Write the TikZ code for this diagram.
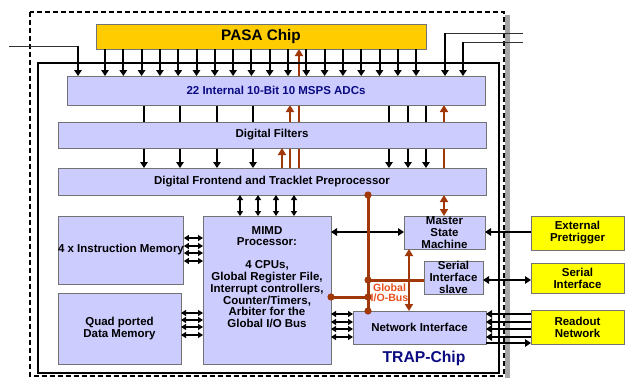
\documentclass[tikz,border=0pt]{standalone}
\usepackage{fontspec}
\setmainfont{Liberation Sans}
\usetikzlibrary{arrows.meta,positioning,backgrounds}
\definecolor{lav}{RGB}{204,204,255}
\definecolor{pasaorange}{RGB}{255,204,0}
\definecolor{extyellow}{RGB}{255,255,0}
\definecolor{busbrown}{RGB}{160,56,10}
\definecolor{buslabel}{RGB}{232,80,30}
\definecolor{trapblue}{RGB}{10,10,130}
\tikzset{
  blk/.style={draw=gray!90!black, fill=lav, line width=0.8pt, inner sep=0pt, outer sep=0pt,
    anchor=north west, align=center, font=\fontsize{11.5}{12}\selectfont\bfseries},
  extbox/.style={blk, fill=extyellow},
  sig/.style={line width=2pt, -{Triangle[length=6pt,width=7.5pt]}},
  bisig/.style={line width=2pt, {Triangle[length=6pt,width=7.5pt]}-{Triangle[length=6pt,width=7.5pt]}},
  bundle/.style={line width=1.6pt, {Triangle[length=5pt,width=6pt]}-{Triangle[length=5pt,width=6pt]}},
  ctl/.style={busbrown, line width=2.2pt, -{Triangle[length=7pt,width=8pt]}},
  bictl/.style={busbrown, line width=2.2pt, {Triangle[length=7pt,width=8pt]}-{Triangle[length=7pt,width=8pt]}},
  bus/.style={busbrown, line width=3pt},
  wire/.style={line width=0.7pt, gray!40!black},
}
\begin{document}
\begin{tikzpicture}[x=1pt,y=-1pt]
\useasboundingbox (0,0) rectangle (625,378);
% chip outlines
\fill[gray!70] (505,15) rectangle (510,378);
\draw[line width=2pt, dash pattern=on 5pt off 3pt] (30,12) rectangle (504,376);
\draw[line width=2pt] (38,63) rectangle (499,373);
\node[text=trapblue, font=\fontsize{15.7}{16}\selectfont\bfseries, inner sep=0pt] (trap) at (424,358) {TRAP-Chip};

% blocks
\node[blk, fill=pasaorange, minimum width=330pt, minimum height=25pt,
  font=\fontsize{15.3}{16}\selectfont\bfseries] (pasa) at (96,24) {PASA Chip};
\node[blk, text=trapblue, minimum width=418pt, minimum height=29pt] (adc) at (67,76) {22 Internal 10-Bit 10 MSPS ADCs};
\node[blk, minimum width=428pt, minimum height=26pt] (filt) at (58,122) {Digital Filters};
\node[blk, minimum width=428pt, minimum height=27pt] (front) at (58,168) {Digital Frontend and Tracklet Preprocessor};
\node[blk, minimum width=123pt, minimum height=68pt] (imem) at (58,216) {4 x Instruction Memory};
\node[blk, minimum width=123pt, minimum height=71pt] (dmem) at (58,293) {Quad ported\\Data Memory};
\node[blk, minimum width=128pt, minimum height=148pt] (mimd) at (203,216) {};
\node[below=10pt of mimd.north, inner sep=0pt, align=center, font=\fontsize{11.5}{11.8}\selectfont\bfseries] (mimdtext)
  {MIMD\\Processor:\\[11pt]4 CPUs,\\Global Register File,\\Interrupt controllers,\\Counter/Timers,\\Arbiter for the\\Global I/O Bus};
\node[blk, minimum width=81pt, minimum height=33pt] (msm) at (404,216) {Master\\State\\Machine};
\node[blk, minimum width=59pt, minimum height=33pt] (sis) at (424,261) {Serial\\Interface\\slave};
\node[blk, minimum width=133pt, minimum height=33pt] (ni) at (353,311) {Network Interface};
\node[extbox, minimum width=93pt, minimum height=34pt] (ext) at (531,216) {External\\Pretrigger};
\node[extbox, minimum width=93pt, minimum height=30pt] (ser) at (531,263) {Serial\\Interface};
\node[extbox, minimum width=93pt, minimum height=34pt] (ro) at (531,310) {Readout\\Network};

% analog inputs
\foreach \i [evaluate=\i as \x using 105+18.3*\i] in {0,...,17}
  \draw[sig] (\x,0 |- pasa.south) -- (\x,0 |- adc.north);
\coordinate (inl) at (9,46);
\coordinate (inra) at (523,33);
\coordinate (inrb) at (523,42);
\draw[wire] (inl) -- (inl -| 78,0);
\draw[sig] (inl -| 78,0) -- (78,0 |- adc.north);
\draw[wire] (inra) -- (inra -| 445,0);
\draw[sig] (inra -| 445,0) -- (445,0 |- adc.north);
\draw[wire] (inrb) -- (inrb -| 463,0);
\draw[sig] (inrb -| 463,0) -- (463,0 |- adc.north);

% data path through the filters
\begin{scope}[on background layer]
\foreach \x in {144,180,217,253,389,408,426}
  \draw[sig] (\x,0 |- adc.south) -- (\x,0 |- front.north);
\draw[ctl] (299,0 |- front.north) -- (299,0 |- pasa.south);
\draw[ctl] (290,0 |- front.north) -- (290,0 |- adc.south);
\draw[ctl] (444,0 |- front.north) -- (444,0 |- adc.south);
\end{scope}
\draw[ctl] (282,0 |- front.north) -- (282,0 |- filt.south);
\draw[bictl] (444,0 |- front.south) -- (444,0 |- msm.north);

% processor ports
\foreach \x in {240,258,276,294}
  \draw[bundle] (\x,0 |- front.south) -- (\x,0 |- mimd.north);
\foreach \y in {238,246,253,261}
  \draw[bundle] (imem.east |- 0,\y) -- (mimd.west |- 0,\y);
\foreach \y in {313,320,327,335}
  \draw[bundle] (dmem.east |- 0,\y) -- (mimd.west |- 0,\y);
\foreach \y in {314,322,329,337}
  \draw[bundle] (mimd.east |- 0,\y) -- (ni.west |- 0,\y);
\draw[bisig] (mimd.east |- 0,232) -- (msm.west |- 0,232);

% global I/O bus
\coordinate (bustop) at (368,0 |- front.south);
\coordinate (busbot) at (368,0 |- ni.north);
\coordinate (bussis) at (368,280);
\coordinate (busmimd) at (368,297);
\draw[bus] (bustop) -- (busbot);
\draw[bus] (bussis) -- (bussis -| sis.west);
\draw[bus] (busmimd) -- (busmimd -| mimd.east);
\foreach \p in {bustop,busbot,bussis,busmimd}
  \fill[busbrown] (\p) circle (3.6pt);
\fill[busbrown] (busmimd -| mimd.east) circle (3.6pt);
\draw[bictl] (409,0 |- msm.south) -- (409,0 |- ni.north);
\node[text=buslabel, inner sep=0pt, align=center, font=\fontsize{10.6}{10.5}\selectfont\bfseries] (buslbl) at (389.5,293) {Global\\I/O-Bus};

% off-chip links
\draw[sig] (ext.west |- 0,232) -- (msm.east |- 0,232);
\draw[bisig] (sis.east |- 0,280) -- (ser.west |- 0,280);
\foreach \y in {314,322,329,337}
  \draw[sig] (ro.west |- 0,\y) -- (ni.east |- 0,\y);
\draw[sig] (ni.east |- 0,343) -- (ro.west |- 0,343);
\end{tikzpicture}
\end{document}
